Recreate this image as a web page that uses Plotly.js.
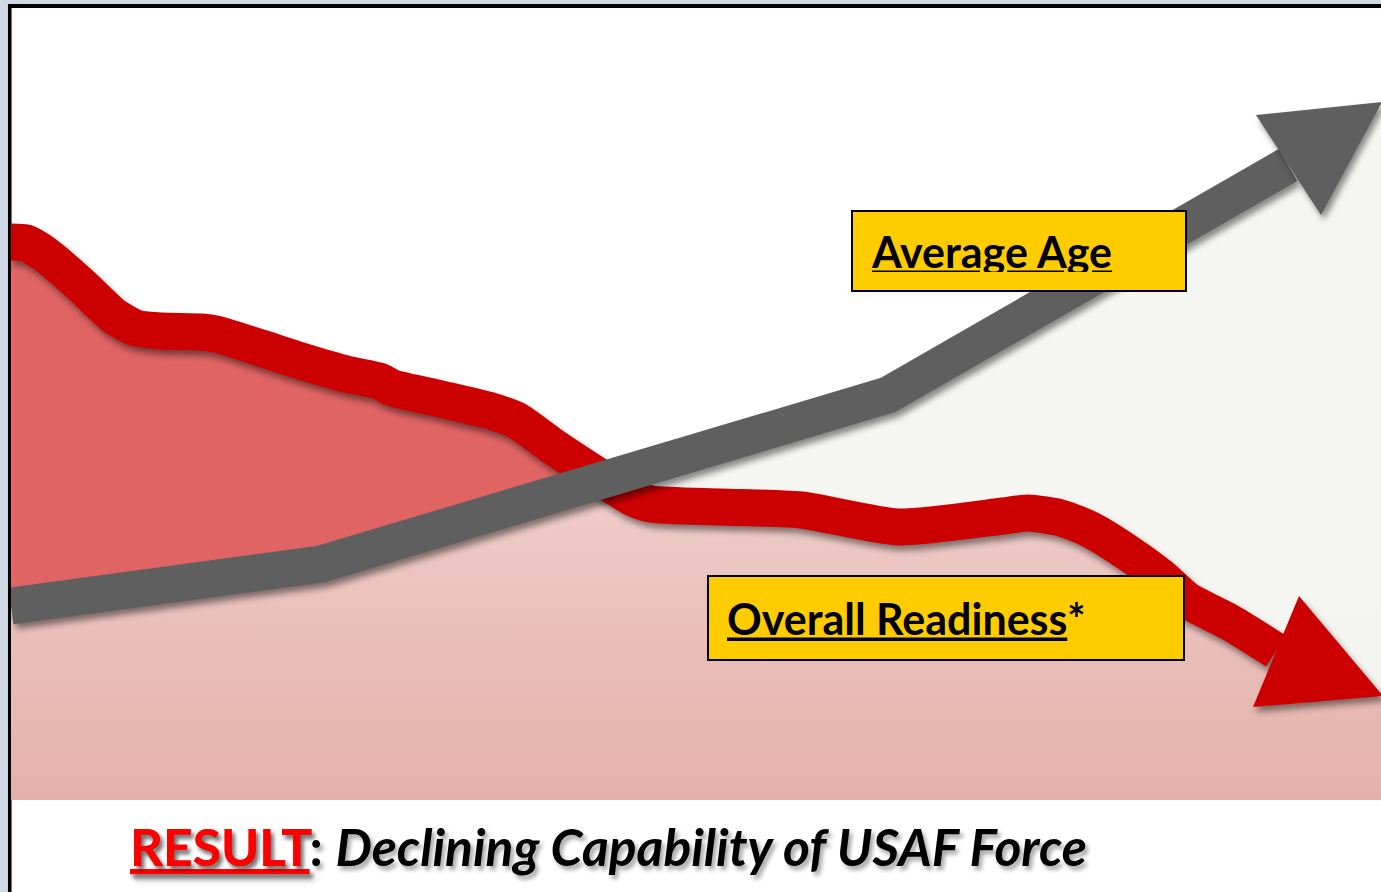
<!DOCTYPE html>
<html>
<head>
<meta charset="utf-8">
<script src="https://cdn.plot.ly/plotly-3.0.1.min.js"></script>
<style>
html,body{margin:0;padding:0;background:#ffffff;overflow:hidden}
#chart{width:1381px;height:892px}
</style>
</head>
<body>
<div id="chart"></div>
<script>
// ---- Data (arbitrary index units) ----
// Overall Readiness line
const readinessX = [0, 1.5, 3.5, 7, 10.3, 12.5, 15, 19, 20.5, 25, 29, 33.5, 36.8, 38.2, 43, 48, 50.5, 54, 59, 62, 64, 71, 79, 88.7, 99.2, 101.7, 105, 108, 112, 115, 117.6, 122, 126.5];
const readinessY = [55.8, 55.7, 54.5, 51.5, 48.4, 47.2, 46.9, 46.8, 46.6, 45.2, 43.9, 42.6, 41.9, 41.2, 40.1, 38.9, 38.0, 35.5, 32.2, 30.3, 29.6, 29.3, 29.0, 27.3, 28.4, 28.7, 28.2, 27.0, 24.5, 22.3, 20.0, 17.7, 14.9];
const readinessTipX = [137.1];
const readinessTipY = [10.2];

// Average Age line
const ageX = [0, 31, 87.7, 127.7];
const ageY = [19.4, 23.6, 40.5, 63.5];
const ageTipX = [137.1];
const ageTipY = [69.8];

// Labels
const labelAge = 'Average Age';
const labelReadiness = 'Overall Readiness';
const captionLead = 'RESULT';
const captionText = 'Declining Capability of USAF Force';

// ---- Styles ----
const RED = '#cc0000';
const RED_FILL = '#e06464';
const GRAY = '#5f5f5f';
const YELLOW = '#ffcc00';
const FONT = 'Lato, "Open Sans", sans-serif';

const traces = [
  { // readiness area
    x: readinessX.concat(readinessTipX), y: readinessY.concat(readinessTipY),
    type: 'scatter', mode: 'lines', fill: 'tozeroy', fillcolor: RED_FILL,
    line: {width: 0, shape: 'spline', smoothing: 0.6, color: RED_FILL},
    hoverinfo: 'skip', showlegend: false
  },
  { // age area (translucent veil)
    x: ageX.concat(ageTipX), y: ageY.concat(ageTipY),
    type: 'scatter', mode: 'lines', fill: 'tozeroy',
    fillgradient: {type: 'vertical', start: 0, stop: 28,
      colorscale: [[0, 'rgba(235,238,227,0.55)'], [1, 'rgba(242,242,237,0.72)']]},
    line: {width: 0, color: 'rgba(0,0,0,0)'},
    hoverinfo: 'skip', showlegend: false
  },
  { // readiness line
    x: readinessX, y: readinessY, type: 'scatter', mode: 'lines',
    line: {width: 37, color: RED, shape: 'spline', smoothing: 0.6},
    hoverinfo: 'skip', showlegend: false
  },
  { // age line
    x: ageX, y: ageY, type: 'scatter', mode: 'lines',
    line: {width: 37, color: GRAY},
    hoverinfo: 'skip', showlegend: false
  }
];

const shapes = [
  // frame: bluish outside strips
  {type: 'rect', xref: 'paper', yref: 'paper', layer: 'below', x0: -0.01, x1: -0.0022, y0: -0.13, y1: 1.02,
   fillcolor: '#cfd9e3', line: {width: 0}},
  {type: 'rect', xref: 'paper', yref: 'paper', layer: 'below', x0: -0.01, x1: 1.01, y0: 1.0051, y1: 1.02,
   fillcolor: '#cfd9e3', line: {width: 0}},
  // frame: black border
  {type: 'rect', xref: 'paper', yref: 'paper', layer: 'below', x0: -0.0022, x1: 0.0004, y0: -0.13, y1: 1.0051,
   fillcolor: '#000000', line: {width: 0}},
  {type: 'rect', xref: 'paper', yref: 'paper', layer: 'below', x0: -0.0022, x1: 1.01, y0: 1.0, y1: 1.0051,
   fillcolor: '#000000', line: {width: 0}},
  // arrowheads anchored at the line ends
  {type: 'path', xref: 'x', yref: 'y', layer: 'above', xsizemode: 'pixel', ysizemode: 'pixel',
   xanchor: readinessX[readinessX.length - 1], yanchor: readinessY[readinessY.length - 1],
   path: 'M23,55 L107,-45 L-23,-56 Z', fillcolor: RED, line: {width: 0}},
  {type: 'path', xref: 'x', yref: 'y', layer: 'above', xsizemode: 'pixel', ysizemode: 'pixel',
   xanchor: ageX[ageX.length - 1], yanchor: ageY[ageY.length - 1],
   path: 'M-32,50 L94,63 L33,-50 Z', fillcolor: GRAY, line: {width: 0}}
];

const annotations = [
  {xref: 'x', yref: 'y', x: 84, y: 59, xanchor: 'left', yanchor: 'top', showarrow: false,
   text: '<u>' + labelAge + '</u>', align: 'left', valign: 'middle',
   width: 296, height: 42, borderpad: 18, borderwidth: 2, bordercolor: '#000000', bgcolor: YELLOW,
   font: {family: FONT, size: 43, color: '#000000', weight: 'bold'}},
  {xref: 'x', yref: 'y', x: 69.6, y: 22.5, xanchor: 'left', yanchor: 'top', showarrow: false,
   text: '<u>' + labelReadiness + '</u>*', align: 'left', valign: 'middle',
   width: 438, height: 46, borderpad: 18, borderwidth: 2, bordercolor: '#000000', bgcolor: YELLOW,
   font: {family: FONT, size: 43, color: '#000000', weight: 'bold'}},
  {xref: 'paper', yref: 'paper', x: (128 - 11) / 1370, y: -0.058, xanchor: 'left', yanchor: 'middle', showarrow: false,
   text: '<span style="color:#ff0000"><u>' + captionLead + '</u></span>: <i>' + captionText + '</i>',
   font: {family: FONT, size: 51.5, color: '#000000', weight: 'bold', shadow: '3px 4px 4px rgba(0,0,0,0.35)'}}
];

const layout = {
  width: 1381, height: 892,
  margin: {l: 11, r: 0, t: 8, b: 92, pad: 0},
  paper_bgcolor: '#ffffff', plot_bgcolor: '#ffffff',
  xaxis: {range: [0, 137.0], visible: false, fixedrange: true},
  yaxis: {range: [0, 79.2], visible: false, fixedrange: true},
  showlegend: false, hovermode: false,
  shapes: shapes, annotations: annotations
};

Plotly.newPlot('chart', traces, layout, {displayModeBar: false, staticPlot: true}).then(function (gd) {
  const tr = gd.querySelectorAll('.scatterlayer .trace');
  tr.forEach(function (t, i) {
    if (i >= 2) t.querySelectorAll('path.js-line').forEach(function (p) {
      p.style.filter = 'drop-shadow(3px 5px 3px rgba(0,0,0,0.45))';
    });
  });
  gd.querySelectorAll('.layer-above .shapelayer path').forEach(function (p) {
    p.style.filter = 'drop-shadow(3px 5px 3px rgba(0,0,0,0.45))';
  });
});
</script>
</body>
</html>
